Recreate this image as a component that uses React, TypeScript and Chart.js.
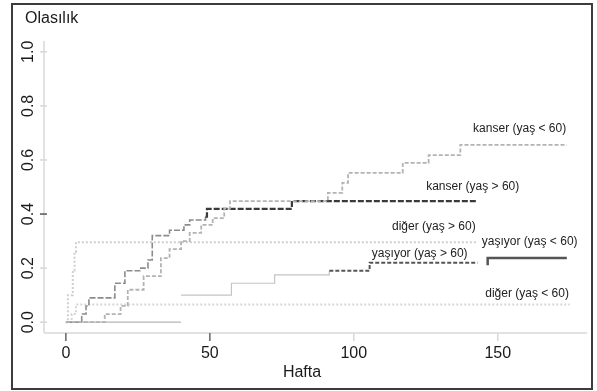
import React, { useEffect, useRef } from "react";
import { Chart, registerables } from "chart.js";

Chart.register(...registerables);

// ---- axis text ----
const yTitle = "Olasılık";
const xTitle = "Hafta";
const xTickValues = [0, 50, 100, 150];
const xTickLabels = ["0", "50", "100", "150"];
const yTickValues = [0, 0.2, 0.4, 0.6, 0.8, 1.0];
const yTickLabels = ["0.0", "0.2", "0.4", "0.6", "0.8", "1.0"];

// ---- series (weeks, cumulative probability) ----
const kanserUnder60Weeks = [0, 13.5, 19, 21.5, 27, 33, 36, 40, 43, 47, 51, 55, 57, 91, 96, 98, 117, 126, 137, 174];
const kanserUnder60Prob = [0, 0.03, 0.06, 0.12, 0.17, 0.237, 0.27, 0.3, 0.33, 0.36, 0.385, 0.42, 0.448, 0.478, 0.515, 0.552, 0.589, 0.618, 0.656, 0.656];

const kanserOver60Weeks = [0, 5.5, 7, 8, 17, 20.5, 26, 28.5, 30, 36, 41, 43, 48.5, 49, 78.5, 143];
const kanserOver60Prob = [0, 0.03, 0.06, 0.09, 0.144, 0.19, 0.2, 0.23, 0.32, 0.34, 0.36, 0.378, 0.39, 0.419, 0.448, 0.448];

const digerOver60Weeks = [0, 0.7, 2.4, 3, 3.5, 143];
const digerOver60Prob = [0, 0.1, 0.19, 0.26, 0.296, 0.296];

const digerUnder60Weeks = [0, 2, 3.5, 175];
const digerUnder60Prob = [0, 0.03, 0.065, 0.065];

const yasiyorOver60Weeks = [40, 57.5, 72.5, 91.5, 105.5, 143];
const yasiyorOver60Prob = [0.1, 0.144, 0.175, 0.19, 0.22, 0.22];

const yasiyorUnder60Weeks = [0, 40, 41, 146.5, 146.5, 174];
const yasiyorUnder60Prob: (number | null)[] = [0, 0, null, 0.211, 0.237, 0.237];

// ---- curve labels, anchored in data units (week, probability) ----
const labelTexts = [
  "kanser (yaş < 60)",
  "kanser (yaş > 60)",
  "diğer (yaş > 60)",
  "yaşıyor (yaş < 60)",
  "yaşıyor (yaş > 60)",
  "diğer (yaş < 60)",
];
const labelWeeks = [157.6, 141.3, 127.8, 161.1, 122.9, 160.2];
const labelProbs = [0.715, 0.5, 0.352, 0.296, 0.252, 0.107];

function pts(w: number[], p: (number | null)[]) {
  return w.map((x, i) => ({ x, y: p[i] }));
}

const FONT = "'Liberation Sans', Arial, sans-serif";

const decor = {
  id: "decor",
  beforeDatasetsDraw(chart: any) {
    const ctx = chart.ctx;
    const xs = chart.scales.x;
    const ys = chart.scales.y;
    const a = chart.chartArea;
    ctx.save();
    ctx.strokeStyle = "#e2e2e2";
    ctx.lineWidth = 2;
    ctx.beginPath();
    ctx.moveTo(a.left, a.top);
    ctx.lineTo(a.left, a.bottom);
    ctx.moveTo(a.left, a.bottom);
    ctx.lineTo(a.right, a.bottom);
    ctx.stroke();
    yTickValues.forEach((v) => {
      const y = ys.getPixelForValue(v);
      ctx.strokeStyle = v === 0.4 ? "#555" : "#d8d8d8";
      ctx.lineWidth = 1.5;
      ctx.beginPath();
      ctx.moveTo(a.left - 4, y);
      ctx.lineTo(a.left + 3, y);
      ctx.stroke();
    });
    xTickValues.forEach((v) => {
      const x = xs.getPixelForValue(v);
      ctx.strokeStyle = v <= 50 ? "#666" : "#d8d8d8";
      ctx.lineWidth = 1.5;
      ctx.beginPath();
      ctx.moveTo(x, a.bottom);
      ctx.lineTo(x, a.bottom + 8);
      ctx.stroke();
    });
    ctx.restore();
  },
  afterDraw(chart: any) {
    const ctx = chart.ctx;
    const xs = chart.scales.x;
    const ys = chart.scales.y;
    const a = chart.chartArea;
    ctx.save();
    ctx.fillStyle = "#1a1a1a";
    ctx.font = `16px ${FONT}`;
    ctx.textAlign = "center";
    ctx.textBaseline = "alphabetic";
    xTickValues.forEach((v, i) => {
      ctx.fillText(xTickLabels[i], xs.getPixelForValue(v), a.bottom + 25);
    });
    ctx.fillText(xTitle, 302, 377);
    yTickValues.forEach((v, i) => {
      ctx.save();
      ctx.translate(33, ys.getPixelForValue(v));
      ctx.rotate(-Math.PI / 2);
      ctx.textAlign = "center";
      ctx.textBaseline = "alphabetic";
      ctx.fillText(yTickLabels[i], 0, 0);
      ctx.restore();
    });
    ctx.textAlign = "left";
    ctx.fillText(yTitle, 25, 23);
    ctx.font = `12px ${FONT}`;
    ctx.textAlign = "center";
    ctx.textBaseline = "middle";
    ctx.fillStyle = "#222";
    labelTexts.forEach((t, i) => {
      ctx.fillText(t, xs.getPixelForValue(labelWeeks[i]), ys.getPixelForValue(labelProbs[i]));
    });
    ctx.strokeStyle = "#3c3c3c";
    ctx.lineWidth = 2;
    ctx.strokeRect(12, 4, 580, 385);
    ctx.restore();
  },
};

export default function App() {
  const ref = useRef<HTMLCanvasElement | null>(null);
  useEffect(() => {
    if (!ref.current) return;
    const chart = new Chart(ref.current, {
      type: "line",
      data: {
        datasets: [
          {
            label: labelTexts[0],
            data: pts(kanserUnder60Weeks, kanserUnder60Prob),
            borderColor: "#b3b3b3",
            borderWidth: 1.8,
            borderDash: [4, 2],
            stepped: true,
          },
          {
            label: labelTexts[1],
            data: pts(kanserOver60Weeks, kanserOver60Prob),
            borderColor: "#3a3a3a",
            borderWidth: 2.2,
            borderDash: [6, 2],
            stepped: true,
            segment: {
              borderColor: (c: any) => (c.p0.parsed.x < 48 ? "#8c8c8c" : "#3a3a3a"),
              borderWidth: (c: any) => (c.p0.parsed.x < 48 ? 1.6 : 2.2),
            },
          },
          {
            label: labelTexts[2],
            data: pts(digerOver60Weeks, digerOver60Prob),
            borderColor: "#cfcfcf",
            borderWidth: 2,
            borderDash: [2, 2],
            stepped: true,
          },
          {
            label: labelTexts[3],
            data: pts(yasiyorUnder60Weeks, yasiyorUnder60Prob),
            borderColor: "#555",
            borderWidth: 2.5,
            stepped: true,
            segment: {
              borderColor: (c: any) => (c.p0.parsed.x < 100 ? "#b5b5b5" : "#555"),
              borderWidth: (c: any) => (c.p0.parsed.x < 100 ? 1.2 : 2.5),
            },
          },
          {
            label: labelTexts[4],
            data: pts(yasiyorOver60Weeks, yasiyorOver60Prob),
            borderColor: "#555",
            borderWidth: 2,
            borderDash: [4, 2],
            stepped: true,
            segment: {
              borderColor: (c: any) => (c.p0.parsed.x < 90 ? "#c4c4c4" : "#555"),
              borderDash: (c: any) => (c.p0.parsed.x < 90 ? [] : [4, 2]),
              borderWidth: (c: any) => (c.p0.parsed.x < 90 ? 1.2 : 2),
            },
          },
          {
            label: labelTexts[5],
            data: pts(digerUnder60Weeks, digerUnder60Prob),
            borderColor: "#d6d6d6",
            borderWidth: 2,
            borderDash: [2, 2],
            stepped: true,
          },
        ],
      },
      options: {
        animation: false,
        responsive: false,
        maintainAspectRatio: false,
        devicePixelRatio: 1,
        layout: { padding: { left: 44, right: 10, top: 41, bottom: 58 } },
        elements: { point: { radius: 0 }, line: { tension: 0 } },
        plugins: { legend: { display: false }, tooltip: { enabled: false } },
        scales: {
          x: { type: "linear", display: false, min: -7.6, max: 181 },
          y: { type: "linear", display: false, min: -0.04, max: 1.04 },
        },
      } as any,
      plugins: [decor],
    });
    return () => chart.destroy();
  }, []);
  return (
    <div style={{ position: "absolute", left: 0, top: 0, width: 597, height: 391, background: "#fff" }}>
      <canvas ref={ref} width={597} height={391} style={{ display: "block", width: 597, height: 391 }} />
    </div>
  );
}
